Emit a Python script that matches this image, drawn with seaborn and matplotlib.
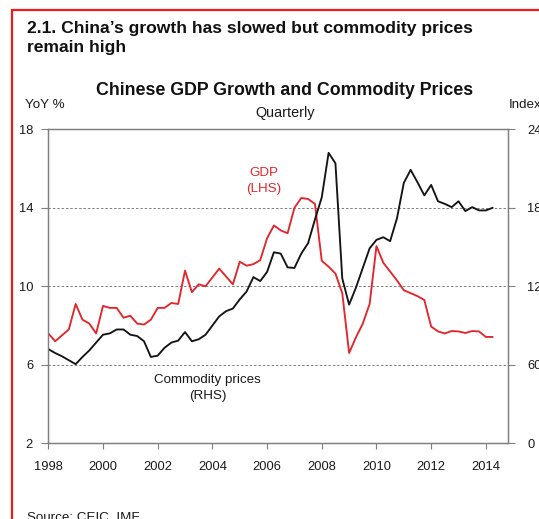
import numpy as np
import pandas as pd
import matplotlib
matplotlib.use("Agg")
import matplotlib.pyplot as plt
from matplotlib import font_manager
from matplotlib.patches import Rectangle
import seaborn as sns

# Quarterly series, 1998Q1 - 2014Q2
gdp_growth = [
    7.6, 7.2, 7.5, 7.8,        # 1998
    9.1, 8.3, 8.1, 7.6,        # 1999
    9.0, 8.9, 8.9, 8.4,        # 2000
    8.5, 8.1, 8.05, 8.3,       # 2001
    8.9, 8.9, 9.15, 9.1,       # 2002
    10.8, 9.7, 10.1, 10.0,     # 2003
    10.45, 10.9, 10.5, 10.1,   # 2004
    11.25, 11.05, 11.13, 11.33,  # 2005
    12.45, 13.1, 12.85, 12.7,  # 2006
    14.0, 14.5, 14.45, 14.2,   # 2007
    11.3, 11.0, 10.65, 9.65,   # 2008
    6.6, 7.4, 8.1, 9.1,        # 2009
    12.05, 11.2, 10.75, 10.3,  # 2010
    9.8, 9.65, 9.5, 9.3,       # 2011
    7.95, 7.7, 7.6, 7.72,      # 2012
    7.7, 7.62, 7.72, 7.7,      # 2013
    7.42, 7.42,                # 2014
]
commodity_index = [
    72, 69, 66.5, 63.5,        # 1998
    60.5, 66, 71, 77,          # 1999
    83, 84, 87, 87,            # 2000
    83, 82, 78, 66,            # 2001
    67, 73, 77, 78.5,          # 2002
    85, 78, 79.5, 83,          # 2003
    90, 97, 101, 103,          # 2004
    110, 116, 127, 124,        # 2005
    131, 146, 145, 134.5,      # 2006
    134, 145, 153, 171,        # 2007
    188, 222, 214, 126,        # 2008
    106, 119, 134, 149,        # 2009
    155.5, 157.5, 154.5, 172,  # 2010
    199, 209, 199.5, 189.5,    # 2011
    197.5, 185, 183, 180.5,    # 2012
    185, 177.5, 180.5, 178,    # 2013
    178, 180,                  # 2014
]
left_ticks = [2, 6, 10, 14, 18]
right_ticks = [0, 60, 120, 180, 240]
year_ticks = [1998, 2000, 2002, 2004, 2006, 2008, 2010, 2012, 2014]

periods = pd.period_range("1998Q1", "2014Q2", freq="Q")
df = pd.DataFrame({
    "date": periods.year + (periods.quarter - 1) / 4.0,
    "gdp": gdp_growth,
    "commodity": commodity_index,
})

sns.set_theme(style="white")
installed = {f.name for f in font_manager.fontManager.ttflist}
if "Liberation Sans Narrow" in installed:
    FONT, SCALE = "Liberation Sans Narrow", 1.2
else:
    FONT, SCALE = "Liberation Sans", 1.0
plt.rcParams["font.family"] = [FONT, "DejaVu Sans"]

RED = "#e1262d"
BLACK = "#141414"
GRID = "#7f7f7f"
TXT = "#1a1a1a"

W, H = 539, 519
fig = plt.figure(figsize=(W / 100, H / 100), dpi=100)
fig.patch.set_facecolor("white")

def fx(px):
    return px / W

def fy(py):
    return 1 - py / H

# red frame around the panel (runs past the right and bottom edges)
fig.patches.append(Rectangle((fx(12.5), fy(540)), fx(560) - fx(12.5), fy(9.5) - fy(540),
                             transform=fig.transFigure, fill=False,
                             edgecolor="#ee1c1c", linewidth=1.6))

ax_l, ax_r, ax_t, ax_b = 48.3, 508.0, 129.3, 443.3
ax = fig.add_axes([fx(ax_l), fy(ax_b), fx(ax_r) - fx(ax_l), fy(ax_t) - fy(ax_b)])
ax2 = ax.twinx()

sns.lineplot(data=df, x="date", y="gdp", ax=ax, color=RED, linewidth=1.35)
sns.lineplot(data=df, x="date", y="commodity", ax=ax2, color=BLACK, linewidth=1.35)

ax.set_xlim(1998, 2014.81)
ax.set_ylim(2, 18)
ax2.set_ylim(0, 240)
ax.set_yticks(left_ticks)
ax2.set_yticks(right_ticks)
ax.set_xticks(year_ticks)
ax.set_xticklabels([str(y) for y in year_ticks])
ax.set_xlabel("")
ax.set_ylabel("")
ax2.set_ylabel("")

for gv in [6, 10, 14]:
    ax.axhline(gv, color=GRID, linewidth=0.7, linestyle=(0, (2.5, 2)), zorder=0)

for a in (ax, ax2):
    for s in a.spines.values():
        s.set_color(GRID)
        s.set_linewidth(0.9)
    a.grid(False)
    a.set_facecolor("none")

tick_fs = 9.3 * SCALE
ax.tick_params(axis="y", direction="out", length=5, width=0.8, color=GRID,
               labelsize=tick_fs, labelcolor=TXT, pad=6, left=True)
ax.tick_params(axis="x", direction="out", length=4, width=0.8, color=GRID,
               labelsize=tick_fs, labelcolor=TXT, pad=9, bottom=True)
ax2.tick_params(axis="y", direction="out", length=5, width=0.8, color=GRID,
                labelsize=tick_fs, labelcolor=TXT, pad=9, right=True)

# headings
title_fs = 12.6 * SCALE
fig.text(fx(27), fy(33), "2.1. China\u2019s growth has slowed but commodity prices",
         ha="left", va="baseline", fontsize=title_fs, fontweight="bold", color="#111111")
fig.text(fx(27), fy(52), "remain high",
         ha="left", va="baseline", fontsize=title_fs, fontweight="bold", color="#111111")
fig.text(fx(285), fy(95), "Chinese GDP Growth and Commodity Prices", ha="center", va="baseline",
         fontsize=12.8 * SCALE, fontweight="bold", color="#111111")
fig.text(fx(285), fy(117), "Quarterly", ha="center", va="baseline",
         fontsize=10.4 * SCALE, color=TXT)
fig.text(fx(25), fy(108), "YoY %", ha="left", va="baseline", fontsize=9.6 * SCALE, color=TXT)
fig.text(fx(509), fy(108), "Index", ha="left", va="baseline", fontsize=9.6 * SCALE, color=TXT)

# series labels
ax.text(2005.89, 15.36, "GDP\n(LHS)", ha="center", va="center", color=RED,
        fontsize=9.6 * SCALE, linespacing=1.4)
ax.text(2003.82, 4.83, "Commodity prices\n(RHS)", ha="center", va="center", color=TXT,
        fontsize=9.6 * SCALE, linespacing=1.4)

fig.text(fx(27), fy(511), "Source: CEIC, IMF", ha="left", va="top",
         fontsize=9.6 * SCALE, color=TXT)

fig.savefig("out.png", dpi=100, facecolor="white")
